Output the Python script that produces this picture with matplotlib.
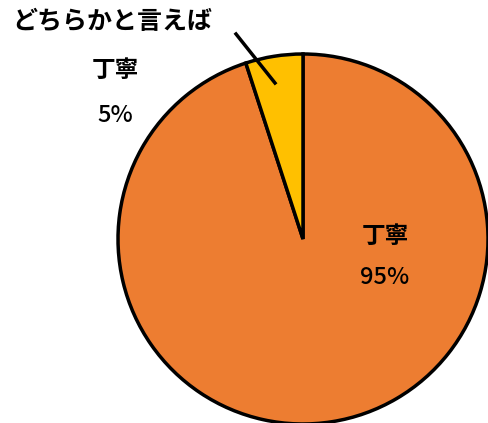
import matplotlib
matplotlib.use("Agg")
import matplotlib.pyplot as plt

plt.rcParams['font.family'] = ['Noto Sans CJK JP', 'DejaVu Sans']

# data
labels = ["丁寧", "どちらかと言えば\n丁寧"]
values = [95, 5]
colors = ["#ED7D31", "#FFC000"]

W, H = 489, 423
fig = plt.figure(figsize=(W / 100, H / 100), dpi=100)
ax = fig.add_axes([0, 0, 1, 1])

# pie in pixel coords (y up)
cx, cy, r = 303, H - 239, 185
wedges, _ = ax.pie(values, colors=colors, startangle=90, counterclock=False,
                   center=(cx, cy), radius=r,
                   wedgeprops=dict(edgecolor="black", linewidth=2.5))
ax.set_xlim(0, W)
ax.set_ylim(0, H)
ax.set_aspect("equal")
ax.axis("off")

# labels
ax.text(385, H - 236, labels[0], ha="center", va="center", fontsize=17, fontweight="bold")
ax.text(385, H - 278, "{}%".format(values[0]), ha="center", va="center",
        fontsize=17, fontweight="medium")

ax.text(112, H - 22, "どちらかと言えば", ha="center", va="center", fontsize=18, fontweight="bold")
ax.text(115, H - 70, "丁寧", ha="center", va="center", fontsize=17, fontweight="bold")
ax.text(115, H - 115, "{}%".format(values[1]), ha="center", va="center",
        fontsize=17, fontweight="medium")

# leader line
ax.plot([236, 275], [H - 34, H - 83], color="black", linewidth=2.5)

fig.savefig("out.png", dpi=100)
